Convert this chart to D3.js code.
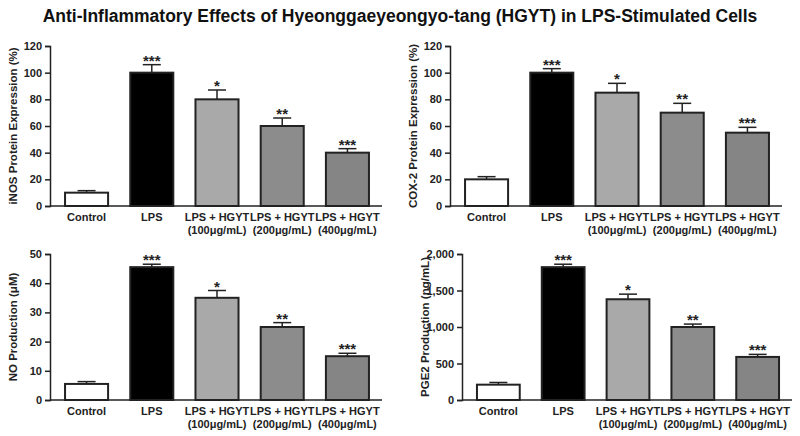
<!DOCTYPE html>
<html><head><meta charset="utf-8">
<script src="https://cdn.jsdelivr.net/npm/d3@7"></script>
<style>body{margin:0;background:#fff;font-family:"Liberation Sans",Arial,sans-serif}</style>
</head><body>
<script>
// groups and panel data
const groups = ["Control", "LPS", "LPS + HGYT|(100μg/mL)", "LPS + HGYT|(200μg/mL)", "LPS + HGYT|(400μg/mL)"];
const fills = ["#ffffff", "#000000", "#a9a9a9", "#8c8c8c", "#858585"];
const stars = ["", "***", "*", "**", "***"];

const inosVals = [10, 100, 80, 60, 40], inosErr = [1.5, 6, 7, 6, 3];
const coxVals = [20, 100, 85, 70, 55], coxErr = [2, 3, 7, 7, 4];
const noVals = [5.5, 45.5, 35, 25, 15], noErr = [0.8, 1, 2.5, 1.5, 1];
const pgeVals = [210, 1820, 1380, 1000, 590], pgeErr = [30, 40, 70, 40, 35];

const panels = [
  {vals: inosVals, err: inosErr, max: 120, step: 20, label: "iNOS Protein Expression (%)", x0: 50, x1: 382, y0: 46, y1: 206},
  {vals: coxVals, err: coxErr, max: 120, step: 20, label: "COX-2 Protein Expression (%)", x0: 450, x1: 782, y0: 46, y1: 206},
  {vals: noVals, err: noErr, max: 50, step: 10, label: "NO Production (μM)", x0: 50, x1: 382, y0: 254, y1: 400},
  {vals: pgeVals, err: pgeErr, max: 2000, step: 500, label: "PGE2 Production (ng/mL)", x0: 462, x1: 792, y0: 254, y1: 400}
];

const svg = d3.select("body").append("svg").attr("width", 800).attr("height", 436);

svg.append("text").attr("x", 400).attr("y", 22).attr("text-anchor", "middle")
  .attr("font-size", 17.5).attr("font-weight", "bold").attr("fill", "#111")
  .text("Anti-Inflammatory Effects of Hyeonggaeyeongyo-tang (HGYT) in LPS-Stimulated Cells");

panels.forEach(p => {
  const g = svg.append("g");
  const x = d3.scaleBand().domain(d3.range(5)).range([p.x0 + 2, p.x1]).paddingInner(0.34).paddingOuter(0.2);
  const y = d3.scaleLinear().domain([0, p.max]).range([p.y1, p.y0]);

  const ya = g.append("g").attr("transform", `translate(${p.x0},0)`)
    .call(d3.axisLeft(y).tickValues(d3.range(0, p.max + 1, p.step)).tickSize(5).tickPadding(3));
  ya.selectAll("text").attr("font-size", 11).attr("font-weight", "bold").attr("fill", "#222");
  ya.selectAll("line,path").attr("stroke", "#222").attr("stroke-width", 1.5);

  g.append("line").attr("x1", p.x0).attr("x2", p.x1).attr("y1", p.y1).attr("y2", p.y1)
    .attr("stroke", "#222").attr("stroke-width", 1.5);

  g.append("text").attr("transform", `translate(${p.x0 - 33},${(p.y0 + p.y1) / 2}) rotate(-90)`)
    .attr("text-anchor", "middle").attr("font-size", 11.5).attr("font-weight", "bold").attr("fill", "#222")
    .text(p.label);

  p.vals.forEach((v, i) => {
    const cx = x(i) + x.bandwidth() / 2, top = y(v + p.err[i]);
    g.append("line").attr("x1", cx).attr("x2", cx).attr("y1", y(v)).attr("y2", top).attr("stroke", "#222").attr("stroke-width", 1.5);
    g.append("line").attr("x1", cx - 9).attr("x2", cx + 9).attr("y1", top).attr("y2", top).attr("stroke", "#222").attr("stroke-width", 1.5);
    g.append("rect").attr("x", x(i)).attr("width", x.bandwidth()).attr("y", y(v)).attr("height", p.y1 - y(v))
      .attr("fill", fills[i]).attr("stroke", "#222").attr("stroke-width", 2);
    if (stars[i]) g.append("text").attr("x", cx).attr("y", top + 1).attr("text-anchor", "middle")
      .attr("font-size", 15).attr("font-weight", "bold").attr("fill", "#222").text(stars[i]);
    groups[i].split("|").forEach((t, k) => {
      g.append("text").attr("x", cx).attr("y", p.y1 + 15 + k * 13).attr("text-anchor", "middle")
        .attr("font-size", 11).attr("font-weight", "bold").attr("fill", "#222").text(t);
    });
  });
});
</script>
</body></html>
